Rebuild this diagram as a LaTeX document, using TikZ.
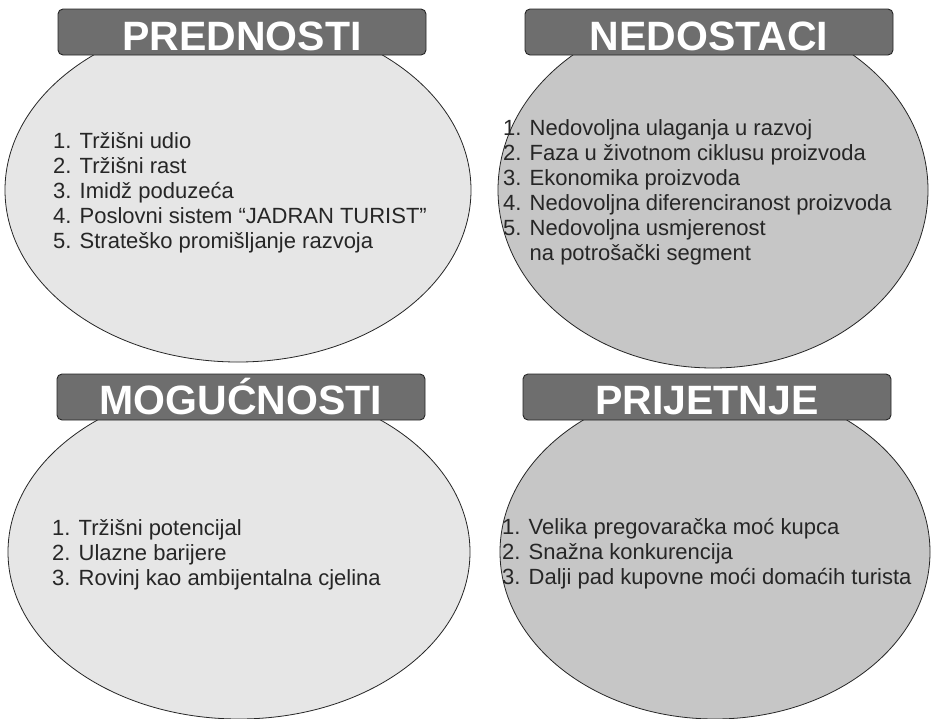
\documentclass[tikz,border=0pt]{standalone}
\usepackage{fontspec}
\setmainfont{Liberation Sans}
\usetikzlibrary{shapes.geometric,calc}
\definecolor{lightfill}{HTML}{E6E6E6}
\definecolor{darkfill}{HTML}{C6C6C6}
\definecolor{tabfill}{HTML}{6E6E6E}
\begin{document}
\begin{tikzpicture}[x=1pt,y=-1pt,
  oval/.style={ellipse,draw=black!85,line width=0.8pt,inner sep=0pt},
  tabbox/.style={draw=black!85,line width=0.9pt,fill=tabfill,rounded corners=5pt,
     minimum width=368pt,minimum height=46pt,inner sep=0pt},
  tabtext/.style={anchor=base,inner sep=0pt,text=white,font=\fontsize{41}{41}\selectfont\bfseries},
  items/.style={align=left,anchor=north west,inner sep=0pt,
     font=\fontsize{22}{25}\selectfont,text=black!85}]
\useasboundingbox (0,0) rectangle (933,718);
\fill[white] (0,0) rectangle (933,718);
% ellipses
\node[oval,fill=lightfill,minimum width=466pt,minimum height=344pt] (e1) at (238,190) {};
\node[oval,fill=darkfill,minimum width=430pt,minimum height=356pt] (e2) at (713,190) {};
\node[oval,fill=lightfill,minimum width=462pt,minimum height=334pt] (e3) at (239,552) {};
\node[oval,fill=darkfill,minimum width=430pt,minimum height=334pt] (e4) at (715,552) {};
% tabs
\node[tabbox] (t1) at (242,32) {};
\node[tabbox] (t2) at (709,32) {};
\node[tabbox] (t3) at (241,397) {};
\node[tabbox] (t4) at (707,397) {};
\node[tabtext] (h1) at ($(t1.south)+(0,-5)$) {PREDNOSTI};
\node[tabtext] (h2) at ($(t2.south)+(0,-5)$) {NEDOSTACI};
\node[tabtext] (h3) at ($(t3.south)+(0,-6)$) {MOGUĆNOSTI};
\node[tabtext] (h4) at ($(t4.south)+(0,-6)$) {PRIJETNJE};
% lists
\node[items] (l1) at (53,132) {1. Tržišni udio\\2. Tržišni rast\\3. Imidž poduzeća\\4. Poslovni sistem “JADRAN TURIST”\\5. Strateško promišljanje razvoja};
\node[items] (l2) at (503,119) {1. Nedovoljna ulaganja u razvoj\\2. Faza u životnom ciklusu proizvoda\\3. Ekonomika proizvoda\\4. Nedovoljna diferenciranost proizvoda\\5. Nedovoljna usmjerenost\\\phantom{5. }na potrošački segment};
\node[items] (l3) at (52,519) {1. Tržišni potencijal\\2. Ulazne barijere\\3. Rovinj kao ambijentalna cjelina};
\node[items] (l4) at (502,518) {1. Velika pregovaračka moć kupca\\2. Snažna konkurencija\\3. Dalji pad kupovne moći domaćih turista};
\end{tikzpicture}
\end{document}
